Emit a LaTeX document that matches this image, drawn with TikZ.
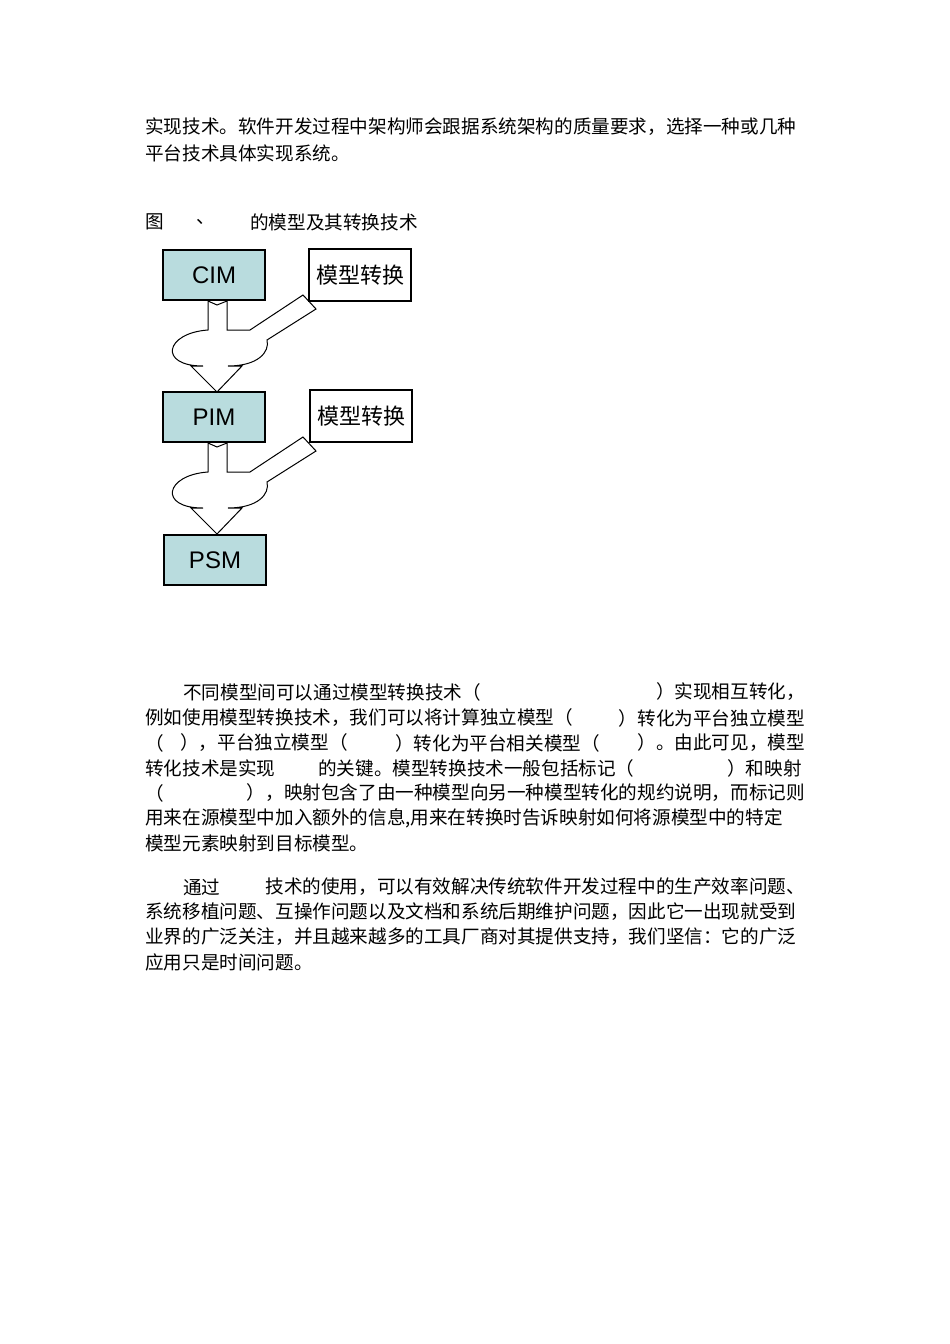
\documentclass[tikz,border=0pt]{standalone}
\usepackage{fontspec}
\setmainfont{Liberation Sans}
\newfontfamily\cjk{Noto Sans CJK SC}
\begin{document}
\begin{tikzpicture}[x=1pt,y=-1pt,
  mbox/.style={draw=black,line width=2pt,fill={rgb,255:red,185;green,220;blue,222},minimum width=102pt,minimum height=50pt,inner sep=0pt,font=\fontsize{24}{26}\selectfont},
  tbox/.style={draw=black,line width=1.5pt,fill=white,minimum width=102pt,minimum height=52pt,inner sep=0pt,font=\cjk\fontsize{22}{24}\selectfont},
  tx/.style={inner sep=0pt,font=\cjk\fontsize{18.6}{22}\selectfont},
  flow/.style={draw=black,line width=1pt,fill=white}]
\useasboundingbox (0,0) rectangle (950,1344);
\foreach \dy in {0,142}{
\begin{scope}[yshift=-\dy pt]
\path[flow] (208,301) -- (208,330) .. controls (165,333) and (158,366) .. (203,366)
  -- (191,366) -- (217,392) -- (242,366) -- (228,366)
  .. controls (258,366) and (270,352) .. (267,340) -- (316,309) -- (303,295)
  -- (250,330) .. controls (240,330) and (232,330) .. (227,330) -- (227,301) -- (217,305) -- cycle;
\draw[white,line width=1.2pt] (204,366) -- (227,366);
\end{scope}}
\node[mbox] (cim) at (214,275) {CIM};
\node[mbox] (pim) at (214,417) {PIM};
\node[mbox] (psm) at (215,560) {PSM};
\node[tbox] (t1) at (360,275) {模型转换};
\node[tbox] (t2) at (361,416) {模型转换};
% text
\node[tx,anchor=west] (a1) at (145,127) {实现技术。软件开发过程中架构师会跟据系统架构的质量要求，选择一种或几种};
\node[tx,anchor=west] (a2) at (145,153) {平台技术具体实现系统。};
\node[tx,anchor=west] (c1) at (145,222) {图};
\node[tx,anchor=west] (c2) at (196,222) {、};
\node[tx,anchor=west] (c3) at (250,222) {的模型及其转换技术};
\node[tx,anchor=west] (b1) at (183,692) {不同模型间可以通过模型转换技术（};
\node[tx,anchor=east] (b1r) at (805,692) {）实现相互转化，};
\node[tx,anchor=west] (b2) at (145,718) {例如使用模型转换技术，我们可以将计算独立模型（};
\node[tx,anchor=east] (b2r) at (805,718) {）转化为平台独立模型};
\node[tx,anchor=west] (b3a) at (145,743) {（};
\node[tx,anchor=west] (b3b) at (180,743) {），平台独立模型（};
\node[tx,anchor=west] (b3c) at (395,743) {）转化为平台相关模型（};
\node[tx,anchor=east] (b3d) at (805,743) {）。由此可见，模型};
\node[tx,anchor=west] (b4a) at (145,768) {转化技术是实现};
\node[tx,anchor=west] (b4b) at (318,768) {的关键。模型转换技术一般包括标记（};
\node[tx,anchor=west] (b4c) at (727,768) {）和映射};
\node[tx,anchor=west] (b5a) at (145,793) {（};
\node[tx,anchor=east] (b5b) at (805,793) {），映射包含了由一种模型向另一种模型转化的规约说明，而标记则};
\node[tx,anchor=west] (b6) at (145,818) {用来在源模型中加入额外的信息,用来在转换时告诉映射如何将源模型中的特定};
\node[tx,anchor=west] (b7) at (145,843) {模型元素映射到目标模型。};
\node[tx,anchor=west] (d1a) at (183,887) {通过};
\node[tx,anchor=east] (d1b) at (805,887) {技术的使用，可以有效解决传统软件开发过程中的生产效率问题、};
\node[tx,anchor=west] (d2) at (145,912) {系统移植问题、互操作问题以及文档和系统后期维护问题，因此它一出现就受到};
\node[tx,anchor=west] (d3) at (145,937) {业界的广泛关注，并且越来越多的工具厂商对其提供支持，我们坚信：它的广泛};
\node[tx,anchor=west] (d4) at (145,962) {应用只是时间问题。};
\end{tikzpicture}
\end{document}
